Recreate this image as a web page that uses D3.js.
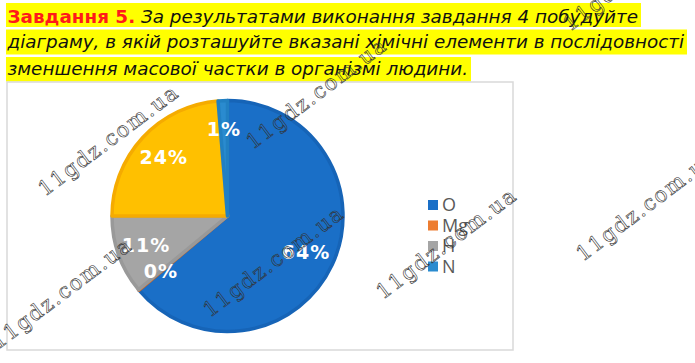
<!DOCTYPE html>
<html><head><meta charset="utf-8">
<script src="https://cdn.jsdelivr.net/npm/d3@7"></script>
<style>html,body{margin:0;padding:0;background:#fff;overflow:hidden}</style>
</head><body>
<script>
// ---- data ----
const categories = ["O", "Mg", "H", "C", "N"];
const values = [63.9, 0.1, 11, 23.7, 1.3];
const labels = ["64%", "0%", "11%", "24%", "1%"];
const legendItems = ["O", "Mg", "H", "N"];
const colors = {O: "#1a6fc7", Mg: "#ed7d31", H: "#a5a5a5", C: "#ffc000", N: "#2a8bcf"};
const borders = {O: "#1664b7", Mg: "#d86a20", H: "#999999", C: "#f5ab00", N: "#2180c2"};
const titleLines = [
  [{t: "Завдання 5.", bold: true, color: "#ff1a1a"}, {t: " За результатами виконання завдання 4 побудуйте", italic: true}],
  [{t: "діаграму, в якій розташуйте вказані хімічні елементи в послідовності", italic: true}],
  [{t: "зменшення масової частки в організмі людини.", italic: true}]
];
const watermark = "11gdz.com.ua";

const W = 695, H = 363;
const svg = d3.select("body").append("svg").attr("width", W).attr("height", H);

// ---- title with highlight ----
const lineBase = [22.5, 48, 74.5];
const lineEnd = [638, 684, 468];
const hiTop = [3, 29.5, 57];
const hiBot = [27, 54.5, 81.5];
titleLines.forEach((parts, i) => {
  svg.append("rect").attr("x", 6).attr("y", hiTop[i])
    .attr("width", lineEnd[i] + 3 - 6).attr("height", hiBot[i] - hiTop[i])
    .attr("fill", "#ffff00");
  const tx = svg.append("text").attr("x", 7.5).attr("y", lineBase[i])
    .attr("font-family", "DejaVu Sans, Verdana, sans-serif")
    .attr("font-size", 18)
    .attr("textLength", lineEnd[i] - 7.5)
    .attr("lengthAdjust", "spacingAndGlyphs");
  parts.forEach(p => {
    tx.append("tspan").text(p.t)
      .attr("font-weight", p.bold ? "bold" : "normal")
      .attr("font-style", p.italic ? "italic" : "normal")
      .attr("fill", p.color || "#111");
  });
});

// ---- chart frame ----
svg.append("rect").attr("x", 7).attr("y", 82).attr("width", 506).attr("height", 268)
  .attr("fill", "#fff").attr("stroke", "#d9d9d9").attr("stroke-width", 1.5);

// ---- pie ----
const cx = 227.5, cy = 216, R = 117;
const pie = d3.pie().sort(null).value(d => d.v);
const data = categories.map((c, i) => ({c, v: values[i], l: labels[i]}));
const arcs = pie(data);
const arc = d3.arc().innerRadius(0).outerRadius(R - 1.5);
const labelArc = d3.arc().innerRadius(R * 0.74).outerRadius(R * 0.74);
const g = svg.append("g").attr("transform", `translate(${cx},${cy})`);
g.selectAll("path").data(arcs).join("path")
  .attr("d", arc)
  .attr("fill", d => colors[d.data.c])
  .attr("stroke", d => borders[d.data.c])
  .attr("stroke-width", 3.5)
  .attr("stroke-linejoin", "round");
g.selectAll("text.lbl").data(arcs).join("text").attr("class", "lbl")
  .attr("transform", d => `translate(${labelArc.centroid(d)})`)
  .attr("text-anchor", "middle").attr("dy", "0.36em")
  .attr("font-family", "DejaVu Sans, Verdana, sans-serif")
  .attr("font-weight", "bold").attr("font-size", 19)
  .attr("letter-spacing", 1)
  .attr("fill", "#fff")
  .text(d => d.data.l);

// ---- legend ----
const lg = svg.append("g");
const ly = d3.scalePoint().domain(legendItems).range([205, 266.5]);
legendItems.forEach(c => {
  lg.append("rect").attr("x", 428).attr("y", ly(c) - 5).attr("width", 10).attr("height", 10)
    .attr("fill", colors[c]);
  lg.append("text").attr("x", 442).attr("y", ly(c)).attr("dy", "0.36em")
    .attr("font-family", "Open Sans, sans-serif").attr("font-size", 18)
    .attr("fill", "#595959").text(c);
});

// ---- watermarks ----
const wmPos = [[45, 197], [253, 150], [-2, 350], [210, 318], [383, 300], [583, 262], [570, 32]];
wmPos.forEach(([x, y]) => {
  svg.append("text").attr("transform", `translate(${x},${y}) rotate(-37)`)
    .attr("font-family", "DejaVu Serif, serif").attr("font-size", 21)
    .attr("textLength", 168).attr("lengthAdjust", "spacing")
    .attr("fill", "none").attr("stroke", "#333").attr("stroke-width", 0.6)
    .text(watermark);
});
</script>
</body></html>
